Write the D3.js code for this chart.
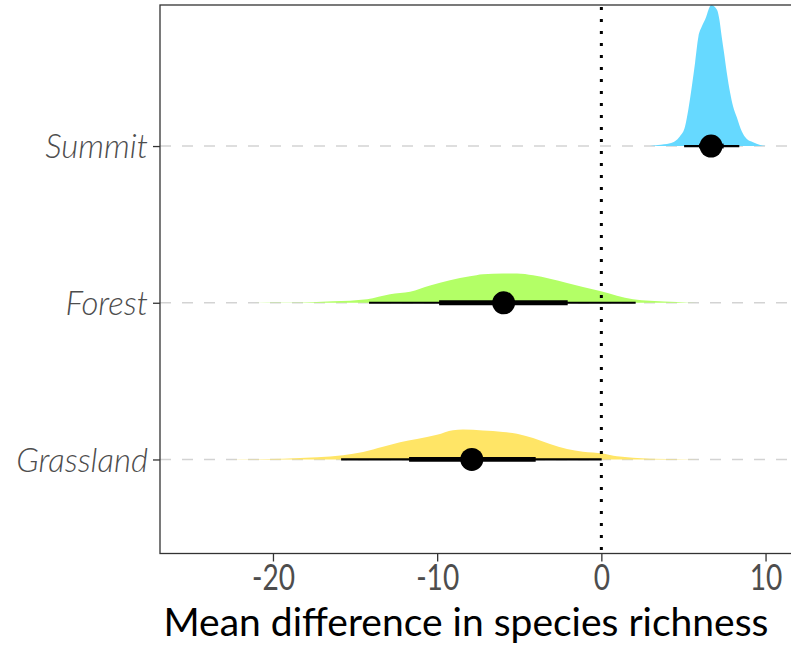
<!DOCTYPE html>
<html>
<head>
<meta charset="utf-8">
<script src="https://cdn.jsdelivr.net/npm/d3@7"></script>
<style>
  html, body { margin: 0; padding: 0; background: #fff; }
  svg { display: block; }
</style>
</head>
<body>
<svg id="chart" width="791" height="646"></svg>
<script>
// ---------- data ----------
const categories = ["Grassland", "Forest", "Summit"];
const colors = ["#FFE566", "#B3FF66", "#66D9FF"];
const xTicks = [-20, -10, 0, 10];

// posterior density estimates (x value, density)
const grasslandX = [-22.5, -21.39, -19.39, -17.31, -15.73, -14.51, -13.30, -12.26, -11.23, -10.01, -9.04, -8.43, -7.21, -5.99, -5.14, -4.16, -3.13, -2.09, -1.12, 0.10, 0.95, 1.93, 4.00, 6.01];
const grasslandD = [0, 0.0003, 0.002, 0.006, 0.012, 0.021, 0.036, 0.049, 0.058, 0.070, 0.083, 0.085, 0.082, 0.078, 0.073, 0.061, 0.044, 0.030, 0.022, 0.017, 0.009, 0.005, 0.001, 0];

const forestX = [-21.5, -19.57, -18.35, -16.34, -14.27, -12.87, -11.65, -10.43, -9.22, -8.00, -7.21, -5.99, -5.14, -4.16, -3.13, -2.09, -1.12, -0.08, 0.95, 1.93, 2.97, 4.61, 5.81];
const forestD = [0, 0.0006, 0.0008, 0.004, 0.010, 0.024, 0.031, 0.049, 0.064, 0.075, 0.081, 0.083, 0.083, 0.078, 0.068, 0.056, 0.045, 0.033, 0.020, 0.010, 0.006, 0.002, 0];

const summitX = [2.96, 3.45, 4.18, 4.79, 5.10, 5.30, 5.51, 5.71, 5.91, 6.11, 6.38, 6.52, 6.68, 7.05, 7.19, 7.33, 7.47, 7.64, 7.84, 8.02, 8.25, 8.55, 8.86, 9.24, 9.67, 10.03];
const summitD = [0, 0.003, 0.008, 0.028, 0.056, 0.104, 0.169, 0.237, 0.310, 0.338, 0.366, 0.386, 0.400, 0.386, 0.358, 0.310, 0.265, 0.208, 0.152, 0.113, 0.082, 0.042, 0.020, 0.011, 0.003, 0];

const densX = [grasslandX, forestX, summitX];
const densD = [grasslandD, forestD, summitD];

// point estimate and intervals
const pointEst = [-7.89, -5.95, 6.68];
const thickLow = [-11.71, -9.88, 5.95];
const thickHigh = [-4.00, -2.05, 7.45];
const thinLow = [-15.85, -14.15, 5.04];
const thinHigh = [0.02, 2.09, 8.40];

// ---------- layout ----------
const svg = d3.select("#chart");
const panel = { left: 160, right: 791, top: 5, bottom: 553.5 };

const x = d3.scaleLinear().domain([-26.88, 11.55]).range([panel.left, panel.right]);
const y = d3.scaleLinear().domain([0.4, 3.9]).range([panel.bottom, panel.top]);
const densScale = d3.scaleLinear().domain([0, 0.4]).range([0, 0.9]);

const g = svg.append("g");

// grid lines (dashed)
g.selectAll("line.grid").data(categories).join("line")
  .attr("class", "grid")
  .attr("x1", panel.left).attr("x2", panel.right + 10)
  .attr("y1", (d, i) => y(i + 1)).attr("y2", (d, i) => y(i + 1))
  .attr("stroke", "#d3d3d3").attr("stroke-width", 1.6)
  .attr("stroke-dasharray", "11,11");

// densities
categories.forEach((c, i) => {
  const pts = densX[i].map((xv, j) => [xv, densD[i][j]]);
  const area = d3.area()
    .x(d => x(d[0]))
    .y0(y(i + 1))
    .y1(d => y(i + 1 + densScale(d[1])))
    .curve(d3.curveMonotoneX);
  g.append("path").datum(pts)
    .attr("d", area)
    .attr("fill", colors[i]);
});

// vertical dotted line at 0
g.append("line")
  .attr("x1", x(0)).attr("x2", x(0))
  .attr("y1", panel.top + 2).attr("y2", panel.bottom)
  .attr("stroke", "#000").attr("stroke-width", 3)
  .attr("stroke-dasharray", "3,9");

// intervals
g.selectAll("line.thin").data(categories).join("line")
  .attr("x1", (d, i) => x(thinLow[i])).attr("x2", (d, i) => x(thinHigh[i]))
  .attr("y1", (d, i) => y(i + 1)).attr("y2", (d, i) => y(i + 1))
  .attr("stroke", "#000").attr("stroke-width", 2.2);
g.selectAll("line.thick").data(categories).join("line")
  .attr("x1", (d, i) => x(thickLow[i])).attr("x2", (d, i) => x(thickHigh[i]))
  .attr("y1", (d, i) => y(i + 1)).attr("y2", (d, i) => y(i + 1))
  .attr("stroke", "#000").attr("stroke-width", 4.8);
g.selectAll("circle.pt").data(categories).join("circle")
  .attr("cx", (d, i) => x(pointEst[i]))
  .attr("cy", (d, i) => y(i + 1))
  .attr("r", 11.5).attr("fill", "#000");

// panel border
svg.append("rect")
  .attr("x", panel.left).attr("y", panel.top)
  .attr("width", panel.right + 20 - panel.left)
  .attr("height", panel.bottom - panel.top)
  .attr("fill", "none").attr("stroke", "#333").attr("stroke-width", 1.3);

// x axis
const xAxis = svg.append("g")
  .attr("transform", `translate(0,${panel.bottom})`)
  .call(d3.axisBottom(x).tickValues(xTicks).tickSize(8).tickFormat(d => String(d)));
xAxis.select(".domain").remove();
xAxis.selectAll(".tick line").attr("stroke", "#333").attr("stroke-width", 1.3);
xAxis.selectAll(".tick text")
  .attr("fill", "#4d4d4d")
  .attr("font-family", "Lato, sans-serif")
  .attr("font-size", 37)
  .attr("dy", "0.71em")
  .attr("y", 10)
  .attr("transform", "scale(0.76,1)");

// y axis
const yAxis = svg.append("g")
  .attr("transform", `translate(${panel.left},0)`)
  .call(d3.axisLeft(y).tickValues([1, 2, 3]).tickSize(7).tickFormat((d) => categories[d - 1]));
yAxis.select(".domain").remove();
yAxis.selectAll(".tick line").attr("stroke", "#333").attr("stroke-width", 1.3);
yAxis.selectAll(".tick text")
  .attr("fill", "#4d4d4d")
  .attr("font-family", "Lato, sans-serif")
  .attr("font-style", "italic")
  .attr("font-weight", 300)
  .attr("font-size", 33)
  .attr("x", -12)
  .attr("dy", "0.35em");

// x title
svg.append("text")
  .attr("x", 466).attr("y", 636)
  .attr("text-anchor", "middle")
  .attr("font-family", "Lato, sans-serif")
  .attr("font-size", 39)
  .attr("fill", "#000")
  .text("Mean difference in species richness");
</script>
</body>
</html>
